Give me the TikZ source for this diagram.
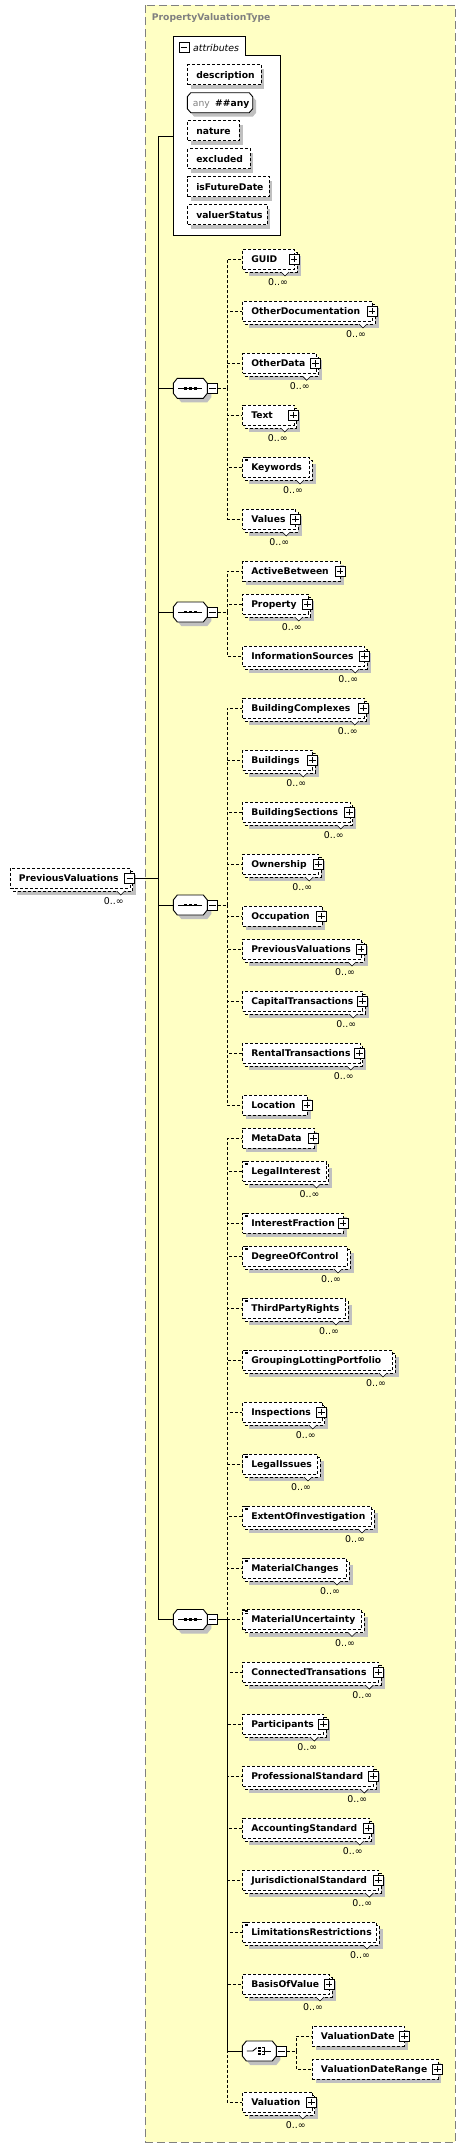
\documentclass[tikz,border=0pt]{standalone}
\usepackage{fontspec}
\setmainfont{DejaVu Sans}
\usetikzlibrary{calc}
\definecolor{ybg}{RGB}{255,255,196}
\definecolor{ybd}{RGB}{128,128,128}
\definecolor{shc}{RGB}{192,192,192}
\definecolor{ttl}{RGB}{128,128,128}
\tikzset{
  dsh/.style={dash pattern=on 3pt off 2pt},
  elem/.style={draw, dsh, fill=white, line width=0.9pt, inner xsep=0pt, inner ysep=0pt,
    minimum height=20pt, text height=8.8pt, text depth=2pt, align=left, anchor=west,
    font=\fontsize{9.2}{11}\selectfont\bfseries},
  solidbox/.style={draw, solid, fill=white, line width=0.8pt, minimum size=10pt, inner sep=0pt},
  plusbox/.style={solidbox, path picture={\draw[line width=0.8pt]
    ($(path picture bounding box.center)+(-3.3,0)$) -- ++(6.6,0)
    ($(path picture bounding box.center)+(0,-3.3)$) -- ++(0,6.6);}},
  minusbox/.style={solidbox, path picture={\draw[line width=0.8pt]
    ($(path picture bounding box.center)+(-3.3,0)$) -- ++(6.6,0);}},
  mult/.style={inner sep=0pt, font=\fontsize{9.4}{11}\selectfont, text height=7pt, text depth=0pt},
  dl/.style={line width=0.9pt, dsh},
  sl/.style={line width=0.9pt},
}
% octagon: L R T B cx cy style
\newcommand{\xoct}[7]{\path[#7] ({#1+#5},{#3}) -- ({#2-#5},{#3}) -- ({#2},{#3+#6}) -- ({#2},{#4-#6}) -- ({#2-#5},{#4}) -- ({#1+#5},{#4}) -- ({#1},{#4-#6}) -- ({#1},{#3+#6}) -- cycle;}
% single element: name left y right text
\newcommand{\xelS}[5]{%
  \fill[shc] ({#2+3.5},{#3-6}) rectangle ({#4+3.5},{#3+14});
  \pgfmathsetmacro{\xw}{#4-#2}%
  \node[elem, text width=\xw pt] (#1) at (#2,#3) {\hspace*{8.5pt}\mbox{#5}};}
% multiple element
\newcommand{\xelM}[5]{%
  \fill[shc] ({#2+6.5},{#3-3}) rectangle ({#4+6.5},{#3+17});
  \draw[dl, fill=white] ({#2+3},{#3-7}) rectangle ({#4+3},{#3+13});
  \pgfmathsetmacro{\xw}{#4-#2}%
  \node[elem, text width=\xw pt] (#1) at (#2,#3) {\hspace*{8.5pt}\mbox{#5}};
  \fill[white] ({#4-12.5},{#3+12.4}) rectangle ({#4-5.5},{#3+13.6});
  \filldraw[fill=white, line width=0.6pt] ({#4-13},{#3+13}) -- ({#4-9},{#3+17}) -- ({#4-5},{#3+13});
  \node[mult] (#1-n) at ({#4-16},{#3+23}) {0..∞};}
\newcommand{\xmark}[2]{\draw[line width=0.6pt] ({#1+1},{#2-9.4}) -- ++(5,0) ({#1+2.5},{#2-8}) -- ++(3.5,0) ({#1+2.5},{#2-6.6}) -- ++(3.5,0);}
\newcommand{\xMP}[3]{\xelM{#1}{242.3}{#2}{#3}{#1}\node[plusbox] (#1-p) at (#3,#2) {};}
\newcommand{\xMK}[3]{\xelM{#1}{242.3}{#2}{#3}{#1}\xmark{242.3}{#2}}
\newcommand{\xSP}[3]{\xelS{#1}{242.3}{#2}{#3}{#1}\node[plusbox] (#1-p) at (#3,#2) {};}
% sequence compositor: name y
\newcommand{\xseq}[2]{%
  \xoct{177.3}{211.3}{#2-6}{#2+14}{4}{5}{fill=shc}
  \xoct{173.3}{207.3}{#2-10}{#2+10}{4}{5}{draw, fill=white, line width=0.9pt}
  \node[inner sep=0pt, minimum width=34pt, minimum height=20pt] (#1) at (190.3,#2) {};
  \draw[line width=0.9pt] (178.3,#2) -- (202.3,#2);
  \foreach \dx in {185.3,190.3,195.3} \fill ({\dx-1.3},{#2-1.3}) rectangle ({\dx+1.3},{#2+1.3});
  \node[minusbox] (#1-m) at (212.3,#2) {};}

\begin{document}
\begin{tikzpicture}[x=1pt,y=-1pt]
\useasboundingbox (0,0) rectangle (468,2148);
% container
\draw[fill=ybg, draw=ybd, line width=0.9pt, dash pattern=on 8pt off 4pt] (145.3,5.3) rectangle (455.3,2142);
\node[anchor=west, inner sep=0pt, text=ttl, font=\fontsize{9.2}{11}\selectfont\bfseries] (title) at (151.7,18) {PropertyValuationType};

% attributes
\draw[fill=white, line width=0.9pt] (173.3,36) -- (245,36) -- (245,55) -- (280.7,55) -- (280.7,235.3) -- (173.3,235.3) -- cycle;
\node[minusbox] (attrm) at (184,47) {};
\node[anchor=west, inner sep=0pt, font=\fontsize{9.4}{11}\selectfont\itshape] (attrt) at (193,47.5) {attributes};
\xelS{aDesc}{187.3}{74.7}{260.7}{description}
\xoct{190.8}{256.2}{96.7}{116.7}{3.5}{4}{fill=shc}
\xoct{187.3}{252.7}{92.7}{112.7}{3.5}{4}{draw, fill=white, line width=0.9pt}
\node[anchor=west, inner sep=0pt, text height=8.8pt, text depth=2pt, font=\fontsize{9.2}{11}\selectfont] (aAny) at (192.7,102.7) {{\color{ttl}any}\hspace*{5.4pt}\textbf{\#\#any}};
\xelS{aNature}{187.3}{130.7}{239}{nature}
\xelS{aExcl}{187.3}{158.7}{249.7}{excluded}
\xelS{aFut}{187.3}{186.7}{268.7}{isFutureDate}
\xelS{aVal}{187.3}{214.7}{266.7}{valuerStatus}
\coordinate (attrsW) at (173.3,136.3);
\coordinate (trunk) at (158.3,136.3);
\draw[sl] (attrsW) -- (trunk) -- (158.3,1619.5);

% root
\xelM{root}{10}{878}{129.8}{PreviousValuations}
\node[minusbox] (root-m) at (129.8,878) {};
\draw[sl] (root-m.east) -- (root-m.east -| trunk);

% compositors
\xseq{seq1}{388.3}
\xseq{seq2}{612}
\xseq{seq3}{905}
\xseq{seq4}{1619.5}
\foreach \s in {seq1,seq2,seq3,seq4} \draw[sl] (\s.west) -- (\s.west -| trunk);

% sequence 1
\xMP{GUID}{259}{294}
\xMP{OtherDocumentation}{311}{372}
\xMP{OtherData}{363.3}{315.7}
\xMP{Text}{415}{293.7}
\xMK{Keywords}{467}{309}
\xMP{Values}{519}{295.3}
\coordinate (b1) at (227.3,388.3);
\draw[dl] (seq1-m.east) -- (b1);
\foreach \n in {GUID,OtherDocumentation,OtherData,Text,Keywords,Values} \draw[dl] (b1) |- (\n.west);

% sequence 2
\xSP{ActiveBetween}{571}{340}
\xMP{Property}{604}{307.7}
\xMP{InformationSources}{656}{364.3}
\coordinate (b2) at (227.3,612);
\draw[dl] (seq2-m.east) -- (b2);
\foreach \n in {ActiveBetween,Property,InformationSources} \draw[dl] (b2) |- (\n.west);

% sequence 3
\xMP{BuildingComplexes}{708}{363.7}
\xMP{Buildings}{760}{312.3}
\xMP{BuildingSections}{812}{349.7}
\xMP{Ownership}{864}{318.3}
\xSP{Occupation}{916}{321.7}
\xMP{PreviousValuations}{949}{361}
\xMP{CapitalTransactions}{1001}{362.3}
\xMP{RentalTransactions}{1053}{359.7}
\xSP{Location}{1105}{307}
\coordinate (b3) at (227.3,905);
\draw[dl] (seq3-m.east) -- (b3);
\foreach \n in {BuildingComplexes,Buildings,BuildingSections,Ownership,Occupation,PreviousValuations,CapitalTransactions,RentalTransactions,Location} \draw[dl] (b3) |- (\n.west);

% sequence 4
\xSP{MetaData}{1138}{313.7}
\xMK{LegalInterest}{1171}{325.5}
\xSP{InterestFraction}{1223}{343}\xmark{242.3}{1223}
\xMK{DegreeOfControl}{1256}{347}
\xMK{ThirdPartyRights}{1308}{345}
\xMK{GroupingLottingPortfolio}{1360}{392}
\xMP{Inspections}{1412}{321.7}
\xMK{LegalIssues}{1464}{317}
\xMK{ExtentOfInvestigation}{1516}{371}
\xMK{MaterialChanges}{1568}{346}
\xMK{MaterialUncertainty}{1619.5}{361}
\xMP{ConnectedTransations}{1672}{378.3}
\xMP{Participants}{1724}{323.3}
\xMP{ProfessionalStandard}{1776}{373.3}
\xMP{AccountingStandard}{1828}{368.7}
\xMP{JurisdictionalStandard}{1880}{378.3}
\xMK{LimitationsRestrictions}{1932}{376}
\xMP{BasisOfValue}{1984}{329}
\xMP{Valuation}{2102}{311.7}

% choice
\xoct{246.3}{280.3}{2045}{2065}{4}{5}{fill=shc}
\xoct{242.3}{276.3}{2041}{2061}{4}{5}{draw, fill=white, line width=0.9pt}
\node[inner sep=0pt, minimum width=34pt, minimum height=20pt] (choice) at (259.3,2051) {};
\draw[line width=0.9pt] (246.8,2051) -- (252.8,2051) -- (256.8,2047.6);
\foreach \dy in {2047.7,2051,2054.3} \fill (258.3,{\dy-1}) rectangle (260.5,{\dy+1});
\draw[line width=0.9pt] (262,2047.7) -- (264.2,2047.7) -- (264.2,2054.3) -- (262,2054.3) (262,2051) -- (270.5,2051);
\node[minusbox] (choice-m) at (281.3,2051) {};
\xelS{ValuationDate}{312}{2036}{404.3}{ValuationDate}\node[plusbox] (ValuationDate-p) at (404.3,2036) {};
\xelS{ValuationDateRange}{312}{2069}{437.7}{ValuationDateRange}\node[plusbox] (ValuationDateRange-p) at (437.7,2069) {};
\coordinate (bc) at (296,2051);
\draw[dl] (choice-m.east) -- (bc);
\draw[dl] (bc) |- (ValuationDate.west);
\draw[dl] (bc) |- (ValuationDateRange.west);

\coordinate (b4) at (227.3,1619.5);
\foreach \n in {MetaData,LegalInterest,InterestFraction,DegreeOfControl,ThirdPartyRights,GroupingLottingPortfolio,Inspections,LegalIssues,ExtentOfInvestigation,MaterialChanges,MaterialUncertainty,ConnectedTransations,Participants,ProfessionalStandard,AccountingStandard,JurisdictionalStandard,LimitationsRestrictions,BasisOfValue,Valuation} \draw[dl] (b4) |- (\n.west);
\draw[sl] (seq4-m.east) -- (b4);
\draw[sl] (b4) |- (choice.west);
\end{tikzpicture}
\end{document}
